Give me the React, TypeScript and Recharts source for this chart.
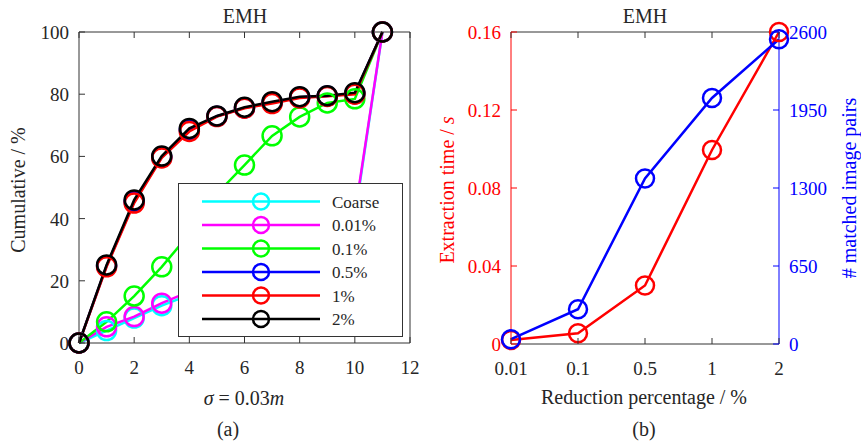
import React from 'react';
import { LineChart, Line, XAxis, YAxis, Legend } from 'recharts';

const FONT = '"Liberation Serif", "Times New Roman", serif';
const AXIS_GRAY = '#333333';
const TEXT = '#262626';

// ---------- Panel (a) ----------
const sigmaSteps = [0, 1, 2, 3, 4, 5, 6, 7, 8, 9, 10, 11];
const coarseCum = [0, 4, 8, 12, 15.5, 19, 22.5, 26, 30, 34.5, 40.5, 100];
const p001Cum = [0, 5.2, 8.5, 12.8, 16.5, 20, 23.5, 27, 31, 35.5, 41.5, 100];
const p01Cum = [0, 6.8, 15.1, 24.5, 35, 48, 57.2, 66.6, 72.7, 77.2, 78.5, 100];
const p05Cum = [0, 24.8, 45.5, 59.8, 68.5, 72.9, 75.6, 77.3, 79, 79.4, 80.2, 100];
const p1Cum = [0, 24.5, 45, 59.5, 68, 72.8, 75.5, 77, 78.8, 79.3, 80, 100];
const p2Cum = [0, 25.1, 46, 60.1, 69, 73, 75.8, 77.6, 79.2, 79.5, 80.5, 100];
const xTicksA = [0, 2, 4, 6, 8, 10, 12];
const yTicksA = [0, 20, 40, 60, 80, 100];

const seriesA = [
  { key: 'coarse', name: 'Coarse', color: '#00ffff', values: coarseCum },
  { key: 'p001', name: '0.01%', color: '#ff00ff', values: p001Cum },
  { key: 'p01', name: '0.1%', color: '#00ff00', values: p01Cum },
  { key: 'p05', name: '0.5%', color: '#0000ff', values: p05Cum },
  { key: 'p1', name: '1%', color: '#ff0000', values: p1Cum },
  { key: 'p2', name: '2%', color: '#000000', values: p2Cum },
];

const dataA = sigmaSteps.map((s, i) => {
  const row: Record<string, number> = { s };
  seriesA.forEach((ser) => {
    row[ser.key] = ser.values[i];
  });
  return row;
});

// ---------- Panel (b) ----------
const reductionPct = ['0.01', '0.1', '0.5', '1', '2'];
const extractionTime = [0.002, 0.0055, 0.03, 0.0995, 0.16];
const matchedPairs = [40, 290, 1380, 2050, 2540];
const timeTicks = [0, 0.04, 0.08, 0.12, 0.16];
const pairTicks = [0, 650, 1300, 1950, 2600];

const dataB = reductionPct.map((p, i) => ({
  p,
  time: extractionTime[i],
  pairs: matchedPairs[i],
}));

// ---------- tick renderers (inward ticks) ----------
const bottomTick = (lineColor: string, textColor: string, withText: boolean) => (props: any) => {
  const { x, y, payload } = props;
  return (
    <g>
      <line x1={x} y1={y} x2={x} y2={y - 6} stroke={lineColor} strokeWidth={1} />
      {withText && (
        <text x={x} y={y + 31} textAnchor="middle" fontFamily={FONT} fontSize={19} fill={textColor}>
          {String(payload.value)}
        </text>
      )}
    </g>
  );
};

const topTick = (lineColor: string) => (props: any) => {
  const { x, y } = props;
  return <line x1={x} y1={y} x2={x} y2={y + 6} stroke={lineColor} strokeWidth={1} />;
};

const leftTick = (lineColor: string, textColor: string) => (props: any) => {
  const { x, y, payload } = props;
  return (
    <g>
      <line x1={x} y1={y} x2={x + 6} y2={y} stroke={lineColor} strokeWidth={1} />
      <text x={x - 10} y={y + 7} textAnchor="end" fontFamily={FONT} fontSize={19} fill={textColor}>
        {String(payload.value)}
      </text>
    </g>
  );
};

const rightTick = (lineColor: string, textColor: string, withText: boolean) => (props: any) => {
  const { x, y, payload } = props;
  return (
    <g>
      <line x1={x} y1={y} x2={x - 6} y2={y} stroke={lineColor} strokeWidth={1} />
      {withText && (
        <text x={x + 10} y={y + 7} textAnchor="start" fontFamily={FONT} fontSize={19} fill={textColor}>
          {String(payload.value)}
        </text>
      )}
    </g>
  );
};

// ---------- labels ----------
const titleA = () => (
  <text x={245} y={23} textAnchor="middle" fontFamily={FONT} fontSize={20} fill={TEXT}>
    EMH
  </text>
);
const bottomLabelA = () => (
  <g>
    <text x={244} y={405} textAnchor="middle" fontFamily={FONT} fontSize={20} fill={TEXT}>
      <tspan fontStyle="italic">σ</tspan>
      <tspan> = 0.03</tspan>
      <tspan fontStyle="italic">m</tspan>
    </text>
    <text x={228} y={436} textAnchor="middle" fontFamily={FONT} fontSize={20} fill={TEXT}>
      (a)
    </text>
  </g>
);
const yLabelA = () => (
  <text
    transform="translate(25,190) rotate(-90)"
    textAnchor="middle"
    fontFamily={FONT}
    fontSize={20}
    fill={TEXT}
  >
    Cumulative / %
  </text>
);

const titleB = () => (
  <text x={215} y={23} textAnchor="middle" fontFamily={FONT} fontSize={20} fill={TEXT}>
    EMH
  </text>
);
const bottomLabelB = () => (
  <g>
    <text x={214} y={404} textAnchor="middle" fontFamily={FONT} fontSize={20} fill={TEXT}>
      Reduction percentage / %
    </text>
    <text x={214} y={436} textAnchor="middle" fontFamily={FONT} fontSize={20} fill={TEXT}>
      (b)
    </text>
  </g>
);
const yLabelBLeft = () => (
  <text
    transform="translate(24,190) rotate(-90)"
    textAnchor="middle"
    fontFamily={FONT}
    fontSize={20}
    fill="#ff0000"
  >
    <tspan>Extraction time / </tspan>
    <tspan fontStyle="italic">s</tspan>
  </text>
);
const yLabelBRight = () => (
  <text
    transform="translate(426,188) rotate(-90)"
    textAnchor="middle"
    fontFamily={FONT}
    fontSize={20}
    fill="#0000ff"
  >
    # matched image pairs
  </text>
);

// ---------- legend ----------
const LegendBoxA = () => (
  <svg width={225} height={154} style={{ display: 'block' }}>
    <rect x={0.5} y={0.5} width={224} height={153} fill="#ffffff" stroke={AXIS_GRAY} strokeWidth={1} />
    {seriesA.map((s, i) => {
      const cy = 18.5 + i * 23.5;
      return (
        <g key={s.key}>
          <line x1={24} x2={142} y1={cy} y2={cy} stroke={s.color} strokeWidth={2.5} />
          <circle cx={83} cy={cy} r={8} fill="none" stroke={s.color} strokeWidth={2.5} />
          <text x={154} y={cy + 6} fontFamily={FONT} fontSize={17} fill={TEXT}>
            {s.name}
          </text>
        </g>
      );
    })}
  </svg>
);

export default function App() {
  return (
    <div
      style={{
        position: 'absolute',
        left: 0,
        top: 0,
        width: 861,
        height: 444,
        background: '#ffffff',
        overflow: 'hidden',
      }}
    >
      <div style={{ position: 'absolute', left: 0, top: 0 }}>
        <LineChart width={430} height={444} data={dataA} margin={{ top: 2, right: 0, bottom: 71, left: 0 }}>
          <XAxis
            xAxisId="b"
            dataKey="s"
            type="number"
            domain={[0, 12]}
            ticks={xTicksA}
            interval={0}
            tickSize={0}
            tickMargin={0}
            height={30}
            axisLine={{ stroke: AXIS_GRAY }}
            tickLine={false}
            tick={bottomTick(AXIS_GRAY, TEXT, true)}
            label={bottomLabelA}
          />
          <XAxis
            xAxisId="t"
            orientation="top"
            dataKey="s"
            type="number"
            domain={[0, 12]}
            ticks={xTicksA}
            interval={0}
            tickSize={0}
            tickMargin={0}
            height={30}
            axisLine={{ stroke: AXIS_GRAY }}
            tickLine={false}
            tick={topTick(AXIS_GRAY)}
            label={titleA}
          />
          <YAxis
            yAxisId="l"
            type="number"
            domain={[0, 100]}
            ticks={yTicksA}
            interval={0}
            tickSize={0}
            tickMargin={0}
            width={79}
            axisLine={{ stroke: AXIS_GRAY }}
            tickLine={false}
            tick={leftTick(AXIS_GRAY, TEXT)}
            label={yLabelA}
          />
          <YAxis
            yAxisId="r"
            orientation="right"
            type="number"
            domain={[0, 100]}
            ticks={yTicksA}
            interval={0}
            tickSize={0}
            tickMargin={0}
            width={20}
            axisLine={{ stroke: AXIS_GRAY }}
            tickLine={false}
            tick={rightTick(AXIS_GRAY, TEXT, false)}
          />
          {seriesA.map((s) => (
            <Line
              key={s.key}
              xAxisId="b"
              yAxisId="l"
              type="linear"
              dataKey={s.key}
              name={s.name}
              stroke={s.color}
              strokeWidth={2.5}
              dot={{ r: 9.5, fill: 'none', stroke: s.color, strokeWidth: 2.5 }}
              activeDot={false}
              isAnimationActive={false}
            />
          ))}
          <Legend
            layout="horizontal"
            verticalAlign="middle"
            align="center"
            wrapperStyle={{ position: 'absolute', left: 178, top: 183, width: 225, height: 154, margin: 0, padding: 0 }}
            content={() => <LegendBoxA />}
          />
        </LineChart>
      </div>
      <div style={{ position: 'absolute', left: 430, top: 0 }}>
        <LineChart width={431} height={444} data={dataB} margin={{ top: 2, right: 0, bottom: 70, left: 0 }}>
          <XAxis
            xAxisId="b"
            dataKey="p"
            type="category"
            interval={0}
            tickSize={0}
            tickMargin={0}
            height={30}
            axisLine={{ stroke: AXIS_GRAY }}
            tickLine={false}
            tick={bottomTick(AXIS_GRAY, TEXT, true)}
            label={bottomLabelB}
          />
          <XAxis
            xAxisId="t"
            orientation="top"
            dataKey="p"
            type="category"
            interval={0}
            tickSize={0}
            tickMargin={0}
            height={30}
            axisLine={{ stroke: AXIS_GRAY }}
            tickLine={false}
            tick={topTick(AXIS_GRAY)}
            label={titleB}
          />
          <YAxis
            yAxisId="t"
            type="number"
            domain={[0, 0.16]}
            ticks={timeTicks}
            interval={0}
            tickSize={0}
            tickMargin={0}
            width={81}
            axisLine={{ stroke: '#ff0000' }}
            tickLine={false}
            tick={leftTick('#ff0000', '#ff0000')}
            label={yLabelBLeft}
          />
          <YAxis
            yAxisId="n"
            orientation="right"
            type="number"
            domain={[0, 2600]}
            ticks={pairTicks}
            interval={0}
            tickSize={0}
            tickMargin={0}
            width={82}
            axisLine={{ stroke: '#0000ff' }}
            tickLine={false}
            tick={rightTick('#0000ff', '#0000ff', true)}
            label={yLabelBRight}
          />
          <Line
            xAxisId="b"
            yAxisId="t"
            type="linear"
            dataKey="time"
            name="Extraction time"
            stroke="#ff0000"
            strokeWidth={2.5}
            dot={{ r: 9, fill: 'none', stroke: '#ff0000', strokeWidth: 2.5 }}
            activeDot={false}
            isAnimationActive={false}
          />
          <Line
            xAxisId="b"
            yAxisId="n"
            type="linear"
            dataKey="pairs"
            name="# matched image pairs"
            stroke="#0000ff"
            strokeWidth={2.5}
            dot={{ r: 9, fill: 'none', stroke: '#0000ff', strokeWidth: 2.5 }}
            activeDot={false}
            isAnimationActive={false}
          />
        </LineChart>
      </div>
    </div>
  );
}
